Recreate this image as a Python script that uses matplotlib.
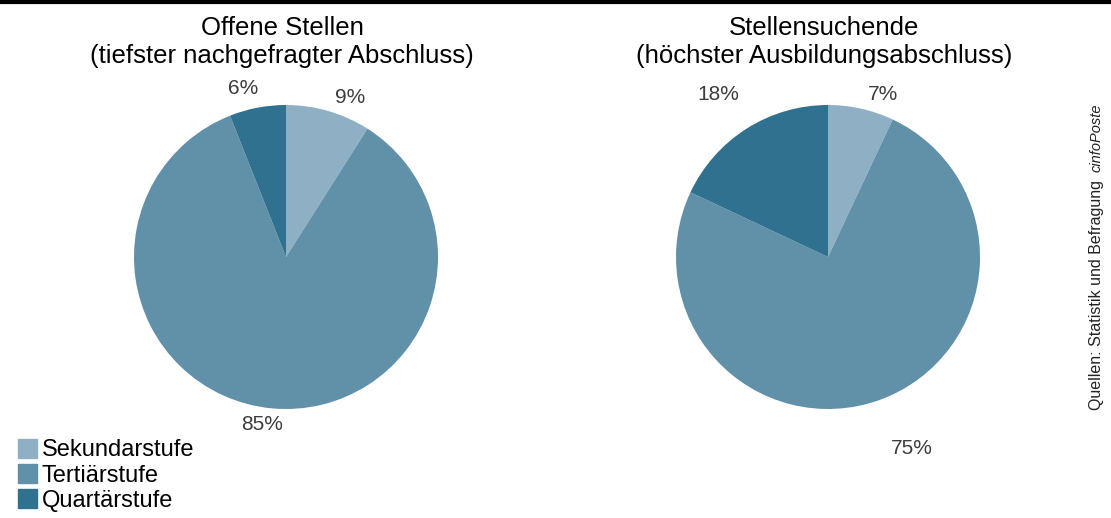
import matplotlib
matplotlib.use("Agg")
import matplotlib.pyplot as plt
from matplotlib.patches import Rectangle
from matplotlib.lines import Line2D

plt.rcParams["font.family"] = ["Liberation Sans", "DejaVu Sans"]

categories = ["Sekundarstufe", "Tertiärstufe", "Quartärstufe"]
colors = ["#8fb0c4", "#6190a9", "#30718f"]

title_lines = [("Offene Stellen", "(tiefster nachgefragter Abschluss)"),
               ("Stellensuchende", "(höchster Ausbildungsabschluss)")]
values_offen = [9, 85, 6]
values_suchend = [7, 75, 18]
# label anchor points in pie units (radius = 1)
label_pos_offen = [(0.42, 1.05), (-0.16, -1.105), (-0.28, 1.11)]
label_pos_suchend = [(0.36, 1.07), (0.55, -1.26), (-0.72, 1.07)]

W, H = 1111, 518
fig = plt.figure(figsize=(W / 100, H / 100), dpi=100)
fig.patch.set_facecolor("white")

def fx(px):
    return px / W

def fy(py):
    return 1 - py / H

# top rule
fig.add_artist(Line2D([0, 1], [fy(2), fy(2)], color="black", lw=3,
                      transform=fig.transFigure))

panels = [
    (286, 257, 152, 282, title_lines[0], values_offen, label_pos_offen),
    (828, 257, 152, 824, title_lines[1], values_suchend, label_pos_suchend),
]
for cx, cy, r, tx, (t1, t2), vals, lpos in panels:
    ax = fig.add_axes([fx(cx - r), fy(cy + r), 2 * r / W, 2 * r / H])
    ax.pie(vals, colors=colors, startangle=90, counterclock=False, radius=1,
           wedgeprops=dict(linewidth=0))
    ax.set_xlim(-1, 1)
    ax.set_ylim(-1, 1)
    ax.set_aspect("auto")
    ax.axis("off")
    for v, (lx, ly) in zip(vals, lpos):
        ax.text(lx, ly, f"{v}%", ha="center", va="center", fontsize=15,
                color="#3c3c3c", clip_on=False)
    fig.text(fx(tx), fy(35), t1, ha="center", va="baseline", fontsize=18.5,
             color="black")
    fig.text(fx(tx), fy(63), t2, ha="center", va="baseline", fontsize=18.5,
             color="black")

# legend
for i, (name, c) in enumerate(zip(categories, colors)):
    yc = 448 + i * 25
    fig.add_artist(Rectangle((fx(18), fy(yc + 9.5)), 19 / W, 19 / H,
                             color=c, transform=fig.transFigure))
    fig.text(fx(42), fy(yc), name, ha="left", va="center_baseline",
             fontsize=17, color="black")

# source note
fig.text(fx(1097), fy(410), "Quellen: Statistik und Befragung",
         rotation=90, ha="center", va="bottom", fontsize=11.5, color="#222222")
fig.text(fx(1097), fy(172), "cinfoPoste", rotation=90, ha="center",
         va="bottom", fontsize=10.5, color="#222222", style="italic")

fig.savefig("out.png", dpi=100)
